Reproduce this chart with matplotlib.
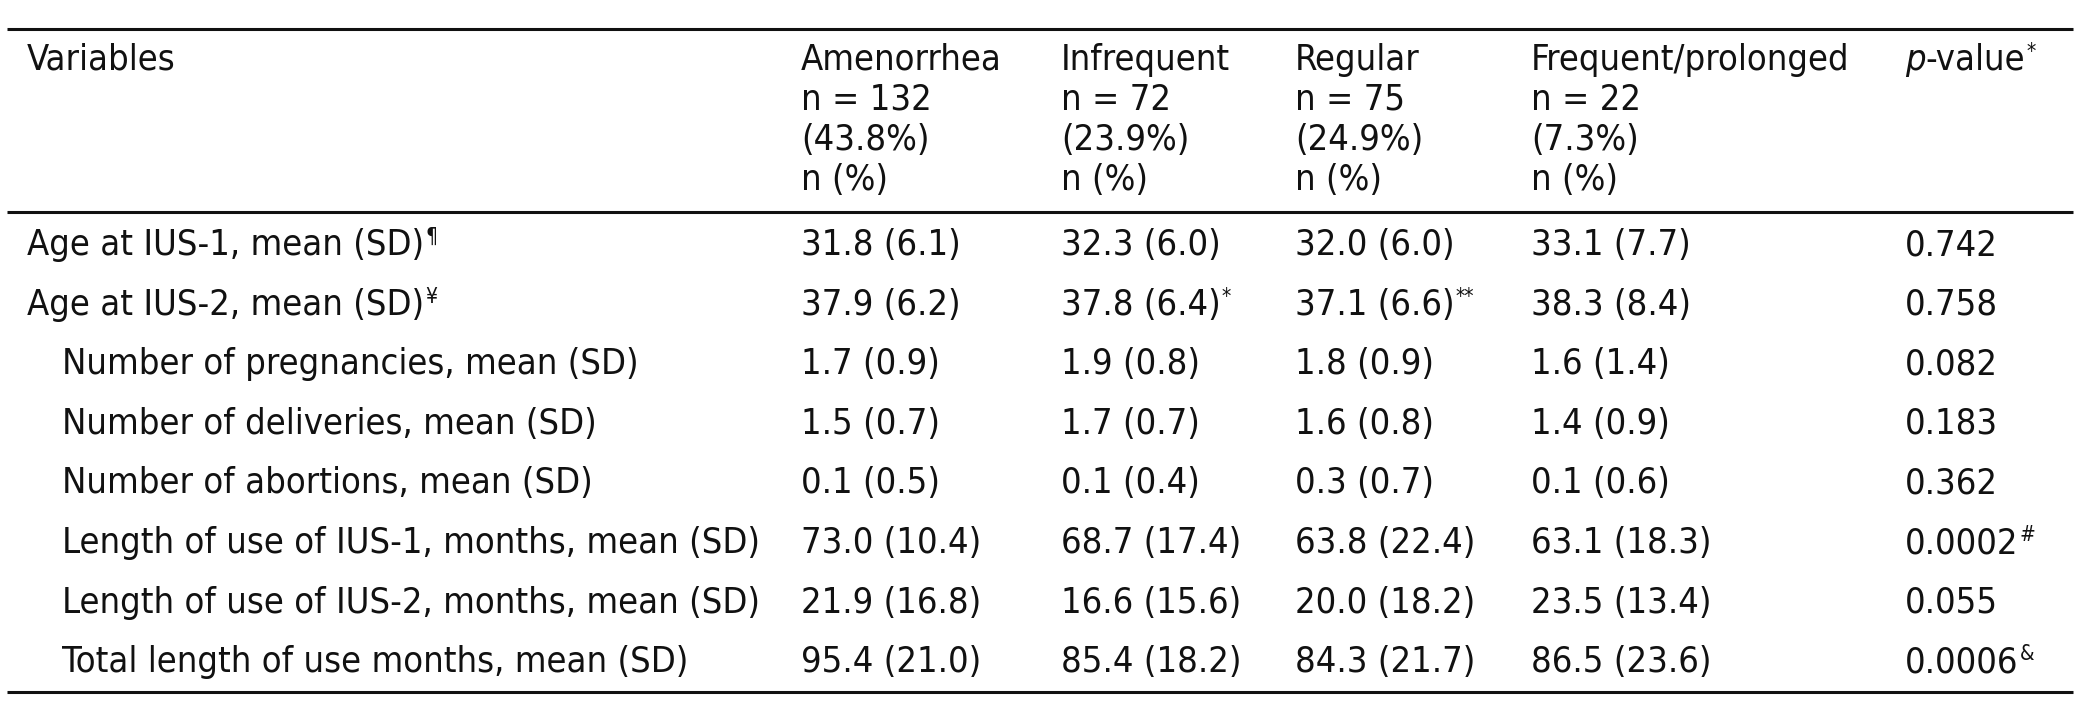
import matplotlib
matplotlib.use('Agg')
import matplotlib.pyplot as plt

# Schmale Schrift (DejaVu Sans Condensed)
plt.rcParams['font.family'] = ['DejaVu Sans']
plt.rcParams['font.stretch'] = 'condensed'

# Kopfzeile
col_heads = ['Variables', 'Amenorrhea', 'Infrequent', 'Regular', 'Frequent/prolonged']
group_n = ['132', '72', '75', '22']
group_pct = ['43.8%', '23.9%', '24.9%', '7.3%']

# Zeilen
variables = ['Age at IUS-1, mean (SD)', 'Age at IUS-2, mean (SD)',
             'Number of pregnancies, mean (SD)', 'Number of deliveries, mean (SD)',
             'Number of abortions, mean (SD)', 'Length of use of IUS-1, months, mean (SD)',
             'Length of use of IUS-2, months, mean (SD)', 'Total length of use months, mean (SD)']
var_marks = ['¶', '¥', '', '', '', '', '', '']
indented = [False, False, True, True, True, True, True, True]

amenorrhea = ['31.8 (6.1)', '37.9 (6.2)', '1.7 (0.9)', '1.5 (0.7)', '0.1 (0.5)',
              '73.0 (10.4)', '21.9 (16.8)', '95.4 (21.0)']
infrequent = ['32.3 (6.0)', '37.8 (6.4)', '1.9 (0.8)', '1.7 (0.7)', '0.1 (0.4)',
              '68.7 (17.4)', '16.6 (15.6)', '85.4 (18.2)']
infrequent_marks = ['', '*', '', '', '', '', '', '']
regular = ['32.0 (6.0)', '37.1 (6.6)', '1.8 (0.9)', '1.6 (0.8)', '0.3 (0.7)',
           '63.8 (22.4)', '20.0 (18.2)', '84.3 (21.7)']
regular_marks = ['', '**', '', '', '', '', '', '']
frequent = ['33.1 (7.7)', '38.3 (8.4)', '1.6 (1.4)', '1.4 (0.9)', '0.1 (0.6)',
            '63.1 (18.3)', '23.5 (13.4)', '86.5 (23.6)']
p_values = ['0.742', '0.758', '0.082', '0.183', '0.362', '0.0002', '0.055', '0.0006']
p_marks = ['', '', '', '', '', '#', '', '&']

W, H = 2079, 717
fs = 26
fs_sup = 15

fig = plt.figure(figsize=(W / 100, H / 100), dpi=100)
ax = fig.add_axes([0, 0, 1, 1])
ax.set_xlim(0, W)
ax.set_ylim(H, 0)
ax.axis('off')
renderer = fig.canvas.get_renderer()


def put(x, y, s, sup='', **kw):
    """Text mit optionalem Hochzeichen dahinter."""
    t = ax.text(x, y, s, fontsize=fs, va='center', ha='left', color='#111111', **kw)
    if sup:
        bb = t.get_window_extent(renderer).transformed(ax.transData.inverted())
        ax.text(bb.x1 + 1, min(bb.y0, bb.y1) - 1, sup, fontsize=fs_sup,
                va='top', ha='left', color='#111111')
    return t


col_x = [27, 801, 1061, 1295, 1531]
p_x = 1905
indent_x = 62

# Linien
for y_line in (29, 212, 692):
    ax.plot([7, 2073], [y_line, y_line], color='#111111', lw=2.2, solid_capstyle='butt')

# Kopf
head_y = [60, 100, 140, 180]
put(col_x[0], head_y[0], col_heads[0])
for i in range(4):
    x = col_x[i + 1]
    put(x, head_y[0], col_heads[i + 1])
    put(x, head_y[1], 'n = ' + group_n[i])
    put(x, head_y[2], '(' + group_pct[i] + ')')
    put(x, head_y[3], 'n (%)')
tp = ax.text(p_x, head_y[0], 'p', fontsize=fs, va='center', ha='left',
             style='italic', color='#111111')
bb = tp.get_window_extent(renderer).transformed(ax.transData.inverted())
put(bb.x1, head_y[0], '-value', sup='*')

# Daten
row_y0 = 245
row_dy = 59.6
for r in range(len(variables)):
    y = row_y0 + r * row_dy
    put(indent_x if indented[r] else col_x[0], y, variables[r], sup=var_marks[r])
    put(col_x[1], y, amenorrhea[r])
    put(col_x[2], y, infrequent[r], sup=infrequent_marks[r])
    put(col_x[3], y, regular[r], sup=regular_marks[r])
    put(col_x[4], y, frequent[r])
    put(p_x, y, p_values[r], sup=p_marks[r])

fig.savefig('out.png', dpi=100, facecolor='white')
